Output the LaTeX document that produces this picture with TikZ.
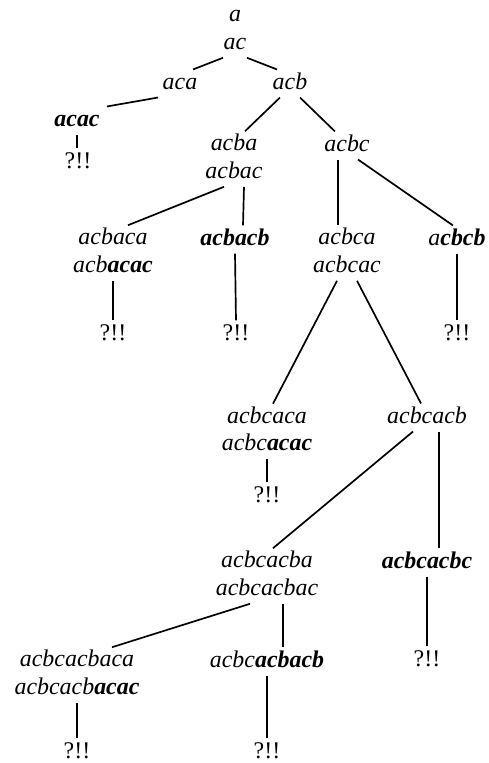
\documentclass[tikz,border=0pt]{standalone}
\usepackage{fontspec}
\setmainfont{Liberation Serif}
\usepackage{tikz}

\begin{document}
\begin{tikzpicture}[x=0.025cm,y=-0.025cm,
   every node/.style={inner sep=0pt,align=center,font=\itshape\fontsize{17}{19.56}\selectfont},
   bang/.style={font=\upshape\fontsize{17}{19.56}\selectfont},
   link/.style={line width=1.2pt}]
\useasboundingbox (0,0) rectangle (488,763);
\node (r) at (235,30) {\strut a\\\strut ac};
\node (aca) at (180,83.5) {\strut aca};
\node (acb) at (290,83.5) {\strut acb};
\node (acac) at (77,120.5) {\strut\textbf{acac}};
\node[bang] (q1) at (78,162.5) {\strut ?!!};
\node (acba) at (234,159) {\strut acba\\\strut acbac};
\node (acbc) at (347,145.5) {\strut acbc};
\node (acbaca) at (113,253) {\strut acbaca\\\strut acb\textbf{acac}};
\node (acbacb) at (235,239.5) {\strut\textbf{acbacb}};
\node (acbca) at (347,253) {\strut acbca\\\strut acbcac};
\node (acbcb) at (457,239.5) {\strut a\textbf{cbcb}};
\node[bang] (q2) at (113,334.5) {\strut ?!!};
\node[bang] (q3) at (236,334.5) {\strut ?!!};
\node[bang] (q4) at (457,334.5) {\strut ?!!};
\node (acbcaca) at (267,431.5) {\strut acbcaca\\\strut acbc\textbf{acac}};
\node (acbcacb) at (427,417.5) {\strut acbcacb};
\node[bang] (q5) at (267,496.5) {\strut ?!!};
\node (acbcacba) at (267,576) {\strut acbcacba\\\strut acbcacbac};
\node (acbcacbc) at (427,562.5) {\strut\textbf{acbcacbc}};
\node (acbcacbaca) at (77,675) {\strut acbcacbaca\\\strut acbcacb\textbf{acac}};
\node (acbcacbacb) at (267,661.5) {\strut acbc\textbf{acbacb}};
\node[bang] (q6) at (427,660.5) {\strut ?!!};
\node[bang] (q7) at (77,752.5) {\strut ?!!};
\node[bang] (q8) at (267,752.5) {\strut ?!!};
% edges of the tree
\draw[link] ([shift={(-12,0)}]r.south) -- ([shift={(13,0)}]aca.north);
\draw[link] ([shift={(12,0)}]r.south) -- ([shift={(-13,0)}]acb.north);
\draw[link] ([shift={(-22,0)}]aca.south) -- ([shift={(30,0)}]acac.north);
\draw[link] (acac.south) -- (acac.south |- q1.north);
\draw[link] ([shift={(-10,0)}]acb.south) -- ([shift={(11,0)}]acba.north);
\draw[link] ([shift={(10,0)}]acb.south) -- ([shift={(-12,0)}]acbc.north);
\draw[link] ([shift={(-10,0)}]acba.south) -- ([shift={(15,0)}]acbaca.north);
\draw[link] ([shift={(10,0)}]acba.south) -- ([shift={(8,0)}]acbacb.north);
\draw[link] ([shift={(-9,0)}]acbc.south) -- ([shift={(-9,0)}]acbca.north);
\draw[link] ([shift={(11,0)}]acbc.south) -- ([shift={(-4,0)}]acbcb.north);
\draw[link] (acbaca.south) -- (q2.north);
\draw[link] (acbacb.south) -- (q3.north);
\draw[link] (acbcb.south) -- (q4.north);
\draw[link] ([shift={(-10,0)}]acbca.south) -- ([shift={(6,0)}]acbcaca.north);
\draw[link] ([shift={(10,0)}]acbca.south) -- ([shift={(-6,0)}]acbcacb.north);
\draw[link] (acbcaca.south) -- (q5.north);
\draw[link] ([shift={(-14,0)}]acbcacb.south) -- ([shift={(6,0)}]acbcacba.north);
\draw[link] ([shift={(12,0)}]acbcacb.south) -- ([shift={(12,0)}]acbcacbc.north);
\draw[link] ([shift={(-17,0)}]acbcacba.south) -- ([shift={(35,0)}]acbcacbaca.north);
\draw[link] ([shift={(16,0)}]acbcacba.south) -- ([shift={(16,0)}]acbcacbacb.north);
\draw[link] (acbcacbc.south) -- (q6.north);
\draw[link] (acbcacbaca.south) -- (q7.north);
\draw[link] (acbcacbacb.south) -- (q8.north);
\end{tikzpicture}
\end{document}
